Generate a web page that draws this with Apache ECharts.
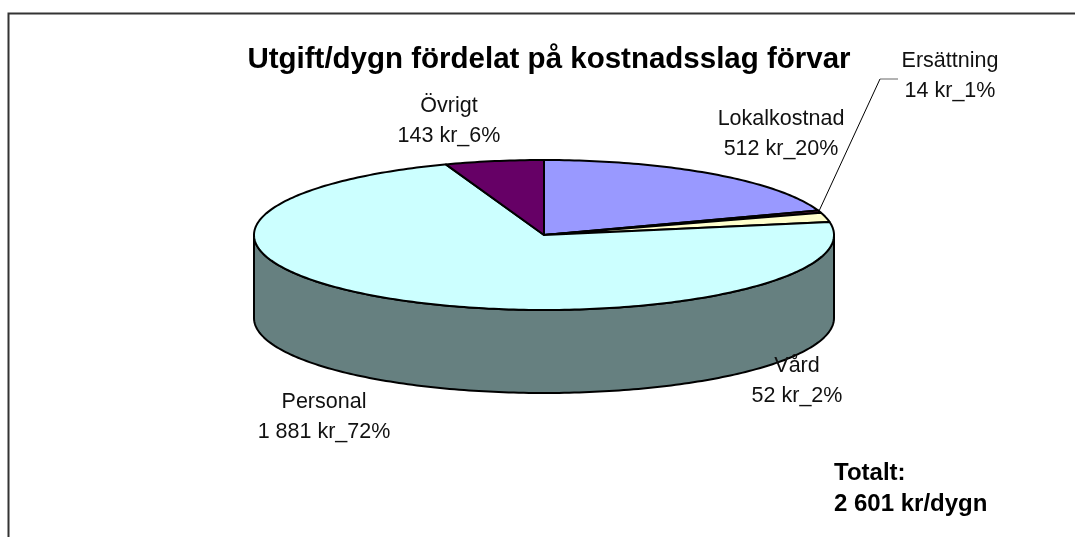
<!DOCTYPE html>
<html><head><meta charset="utf-8">
<style>html,body{margin:0;padding:0;background:#fff}#c{width:1075px;height:537px}</style>
<script src="https://cdn.jsdelivr.net/npm/echarts@6/dist/echarts.min.js"></script>
</head><body><div id="c"></div>
<script>
const categories = ['Lokalkostnad','Ersättning','Vård','Personal','Övrigt'];
const values = [512,14,52,1881,143];
const valueLabels = ['512 kr_20%','14 kr_1%','52 kr_2%','1 881 kr_72%','143 kr_6%'];
const topColors = ['#9999FF','#993366','#FFFFCC','#CCFFFF','#660066'];
const sideColors = ['#4C4C80','#4C1933','#808066','#668080','#330033'];
const titleText = 'Utgift/dygn fördelat på kostnadsslag förvar';
const totalText = 'Totalt:\n2 601 kr/dygn';

const sum = values.reduce((a,b)=>a+b,0);
const cx = 544, cy = 235, rx = 290, ry = 75, depth = 83;
const pt = (deg, dy) => { const t = deg*Math.PI/180; return [cx + rx*Math.sin(t), cy - ry*Math.cos(t) + (dy||0)]; };
const stroke = '#000';

function renderSlice(params, api) {
  const i = params.dataIndex;
  let before = 0;
  for (let k=0;k<i;k++) before += api.value(0,k);
  const a0 = before/sum*360, a1 = (before+api.value(0))/sum*360;
  const children = [];
  const s0 = Math.max(a0,90), s1 = Math.min(a1,270);
  if (s1 > s0) {
    const pts = [];
    for (let a=s0;a<s1;a+=1) pts.push(pt(a));
    pts.push(pt(s1));
    const low = [];
    for (let a=s1;a>s0;a-=1) low.push(pt(a,depth));
    low.push(pt(s0,depth));
    children.push({type:'polygon',shape:{points:pts.concat(low)},
      style:{fill:sideColors[i],stroke:stroke,lineWidth:2,lineJoin:'round'}});
  }
  const top = [[cx,cy]];
  for (let a=a0;a<a1;a+=1) top.push(pt(a));
  top.push(pt(a1));
  children.push({type:'polygon',shape:{points:top},
    style:{fill:topColors[i],stroke:stroke,lineWidth:2,lineJoin:'round'}});
  return {type:'group',children};
}

const labelPos = {
  0:[781,134], 1:[950,76.5], 2:[797,381], 3:[324,417], 4:[449,121.5]
};
const labelFont = {fontFamily:'Liberation Sans, Arial, sans-serif',fontSize:21.5,fill:'#111',align:'center',verticalAlign:'middle',lineHeight:30};
const labelEls = categories.map((c,i)=>({
  type:'text',x:labelPos[i][0],y:labelPos[i][1],z:10,
  style:Object.assign({text:c+'\n'+valueLabels[i]},labelFont)
}));

const chart = echarts.init(document.getElementById('c'),null,{renderer:'canvas'});
chart.setOption({
  animation:false,
  backgroundColor:'#fff',
  title:{text:titleText,left:544,top:40,textAlign:'center',
    textStyle:{fontFamily:'Liberation Sans, Arial, sans-serif',fontSize:29.5,fontWeight:'bold',color:'#000'}},
  graphic:[
    {type:'polyline',shape:{points:[[1075,13.5],[8.5,13.5],[8.5,537]]},style:{stroke:'#333',lineWidth:2,fill:null},z:1},
    {type:'polyline',shape:{points:[[819,211],[880,79]]},style:{stroke:'#000',lineWidth:1,fill:null},z:5},
    {type:'polyline',shape:{points:[[880,79],[898,79]]},style:{stroke:'#666',lineWidth:1,fill:null},z:5},
    {type:'text',x:834,y:458,z:10,style:{text:totalText,fontFamily:'Liberation Sans, Arial, sans-serif',fontSize:24,fontWeight:'bold',fill:'#000',lineHeight:31}}
  ].concat(labelEls),
  series:[{type:'custom',coordinateSystem:'none',renderItem:renderSlice,
    data:values.map((v,i)=>({name:categories[i],value:[v]})),silent:true,clip:false}]
});
</script></body></html>
